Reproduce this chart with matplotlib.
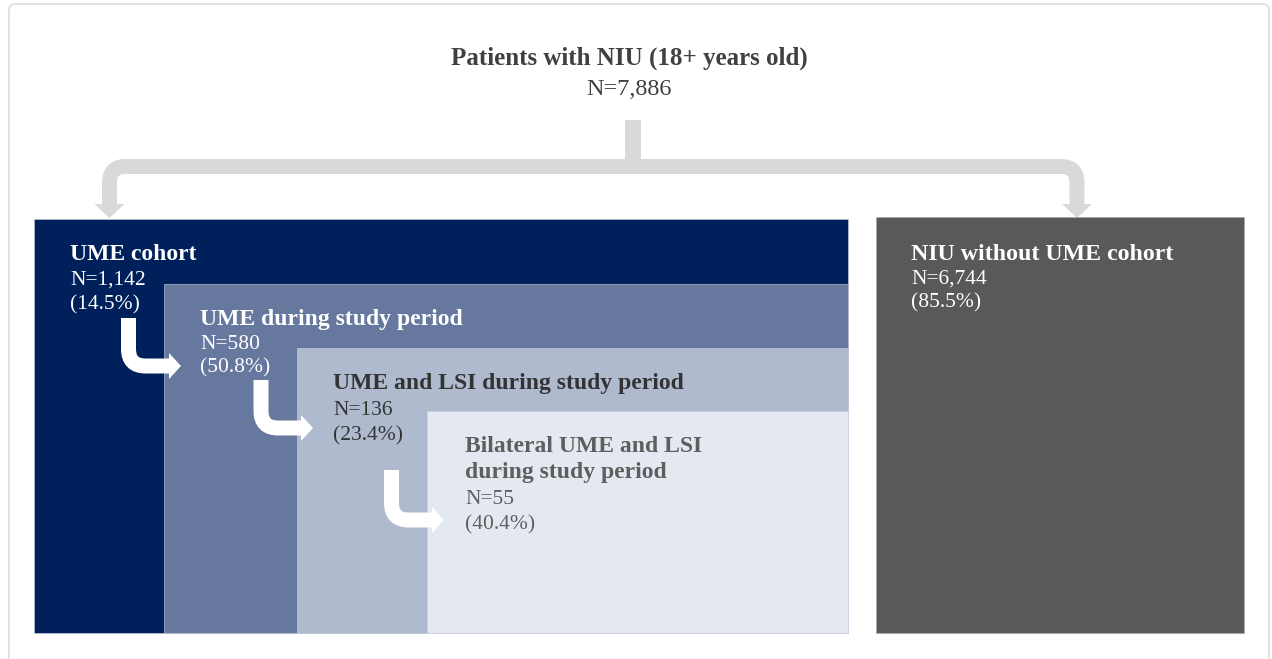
import matplotlib
matplotlib.use("Agg")
import matplotlib.pyplot as plt
from matplotlib.patches import Rectangle, FancyBboxPatch, Polygon, PathPatch
from matplotlib.path import Path

# ---------------- data ----------------
top_label = "Patients with NIU (18+ years old)"
top_n = 7886

cohort_labels = ["UME cohort", "UME during study period",
                 "UME and LSI during study period",
                 "Bilateral UME and LSI\nduring study period"]
cohort_n = [1142, 580, 136, 55]
cohort_pct = [14.5, 50.8, 23.4, 40.4]

other_label = "NIU without UME cohort"
other_n = 6744
other_pct = 85.5

# ---------------- layout / style ----------------
W, H = 1272, 659
box_left = [34, 164, 297, 427]
box_top = [219, 284, 348, 411]
box_right = 848
box_bottom = 633
box_colors = ["#00205b", "#67789f", "#afbacf", "#e4e8f0"]
text_colors = ["white", "white", "#333333", "#5e5e5e"]
text_offset = [36, 36, 36, 38]
title_base = [260, 325, 389, 452]
line_gap = [25, 24, 26, 26]

other_box = (876, 217, 1244)
other_color = "#595959"

# white L arrows: (x center, top, y center, tip)
arrows = [(128.5, 318, 366, 181), (261, 380, 428, 313), (391.5, 470, 520, 444)]

plt.rcParams["font.family"] = ["Liberation Serif", "DejaVu Serif"]

fig = plt.figure(figsize=(W / 100, H / 100), dpi=100)
ax = fig.add_axes([0, 0, 1, 1])
ax.set_xlim(0, W)
ax.set_ylim(H, 0)
ax.axis("off")

PX = 0.72  # points per pixel at 100 dpi

# frame
ax.add_patch(FancyBboxPatch((9, 4), 1260, 720, boxstyle="round,pad=0,rounding_size=6",
                            fill=False, edgecolor="#e2e2e2", lw=2 * PX))

# top title
ax.text(629, 65, top_label, ha="center", va="baseline", fontsize=18,
        fontweight="bold", color="#404040")
ax.text(629, 95, f"N={top_n:,}", ha="center", va="baseline", fontsize=17.5,
        color="#404040")

# bracket
gray = "#d9d9d9"
ax.add_patch(Rectangle((625, 120), 16, 42, facecolor=gray, edgecolor="none"))
xL, xR, yb, r, yend = 109.5, 1077, 166.5, 16, 205
verts = [(xL, yend), (xL, yb + r), (xL, yb), (xL + r, yb), (xR - r, yb),
         (xR, yb), (xR, yb + r), (xR, yend)]
codes = [Path.MOVETO, Path.LINETO, Path.CURVE3, Path.CURVE3, Path.LINETO,
         Path.CURVE3, Path.CURVE3, Path.LINETO]
ax.add_patch(PathPatch(Path(verts, codes), fill=False, edgecolor=gray,
                       lw=15 * PX, capstyle="butt", joinstyle="miter"))
for xc in (xL, xR):
    ax.add_patch(Polygon([(xc - 15, 204), (xc + 15, 204), (xc, 218)],
                         closed=True, facecolor=gray, edgecolor="none"))

# cohort boxes
for i in range(len(cohort_labels)):
    ax.add_patch(Rectangle((box_left[i], box_top[i]), box_right - box_left[i],
                           box_bottom - box_top[i], facecolor=box_colors[i],
                           edgecolor="#c9cfdc", lw=0.6 * PX))
for i in range(len(cohort_labels)):
    x = box_left[i] + text_offset[i]
    y = title_base[i]
    for ln in cohort_labels[i].split("\n"):
        ax.text(x, y, ln, ha="left", va="baseline", fontsize=17,
                fontweight="bold", color=text_colors[i])
        y += line_gap[i]
    ax.text(x, y, f"N={cohort_n[i]:,}", ha="left", va="baseline",
            fontsize=15.5, color=text_colors[i])
    ax.text(x, y + line_gap[i] - 1, f"({cohort_pct[i]}%)", ha="left",
            va="baseline", fontsize=15.5, color=text_colors[i])

# other box
ox0, oy0, ox1 = other_box
ax.add_patch(Rectangle((ox0, oy0), ox1 - ox0, box_bottom - oy0,
                       facecolor=other_color, edgecolor="#a8a8a8", lw=0.6 * PX))
ax.text(ox0 + 35, 260, other_label, ha="left", va="baseline", fontsize=17.2,
        fontweight="bold", color="white")
ax.text(ox0 + 35, 284, f"N={other_n:,}", ha="left", va="baseline",
        fontsize=15.5, color="white")
ax.text(ox0 + 35, 307, f"({other_pct}%)", ha="left", va="baseline",
        fontsize=15.5, color="white")

# white L-shaped arrows
for xc, top, yc, tip in arrows:
    rr = 17
    hs = tip - 12
    v = [(xc, top), (xc, yc - rr), (xc, yc), (xc + rr, yc), (hs + 1, yc)]
    c = [Path.MOVETO, Path.LINETO, Path.CURVE3, Path.CURVE3, Path.LINETO]
    ax.add_patch(PathPatch(Path(v, c), fill=False, edgecolor="white",
                           lw=15 * PX, capstyle="butt", joinstyle="miter"))
    ax.add_patch(Polygon([(hs, yc - 13), (hs, yc + 13), (tip, yc)], closed=True,
                         facecolor="white", edgecolor="none"))

fig.savefig("out.png", dpi=100)
